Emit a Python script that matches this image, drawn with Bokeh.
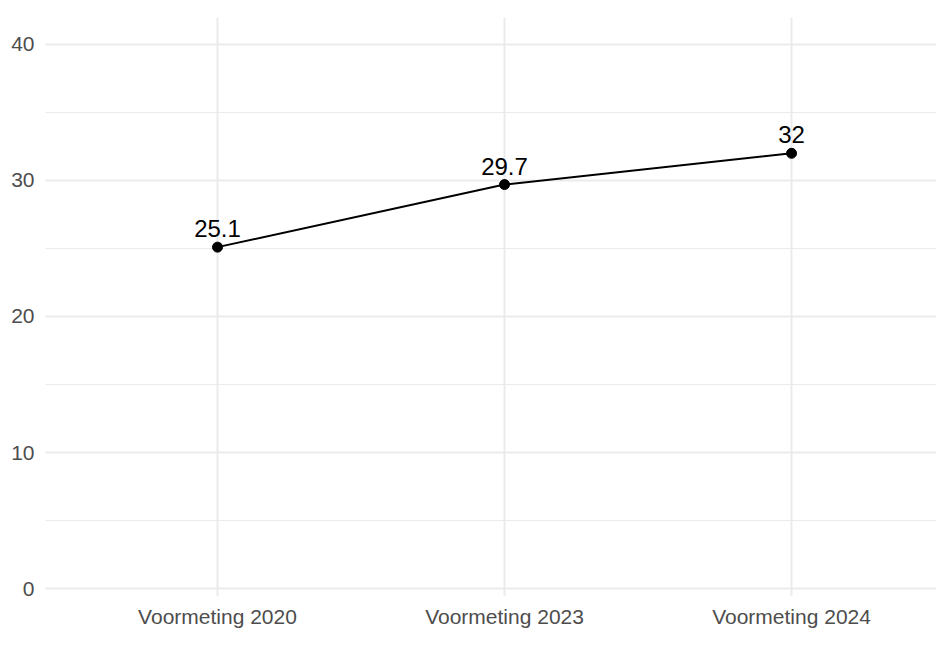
from bokeh.plotting import figure
from bokeh.models import ColumnDataSource, FixedTicker, Range1d
from bokeh.embed import file_html
from bokeh.resources import INLINE
from bokeh.core.properties import value

categories = ["Voormeting 2020", "Voormeting 2023", "Voormeting 2024"]
values = [25.1, 29.7, 32.0]
labels = ["25.1", "29.7", "32"]
y_ticks = [0, 10, 20, 30, 40]
y_minor = [5, 15, 25, 35]

xs = list(range(1, len(categories) + 1))
src = ColumnDataSource(dict(x=xs, y=values, lab=labels))

p = figure(width=936, height=630, output_backend="svg", toolbar_location=None,
           x_range=Range1d(0.4007, 3.505), y_range=Range1d(-0.588, 41.985),
           min_border_left=45, min_border_top=17, min_border_bottom=27, min_border_right=0)
p.outline_line_color = None
p.background_fill_color = "white"
p.border_fill_color = "white"

FONT = "Liberation Sans"

p.xaxis.ticker = FixedTicker(ticks=xs)
p.xaxis.major_label_overrides = {x: c for x, c in zip(xs, categories)}
p.yaxis.ticker = FixedTicker(ticks=y_ticks, minor_ticks=y_minor)

for ax in (p.xaxis[0], p.yaxis[0]):
    ax.axis_line_color = None
    ax.major_tick_line_color = None
    ax.minor_tick_line_color = None
    ax.major_label_text_font = FONT
    ax.major_label_text_font_size = "21px"
    ax.major_label_text_color = "#4D4D4D"
p.xaxis.major_label_standoff = 2
p.yaxis.major_label_standoff = 5

p.xgrid.grid_line_color = "#EBEBEB"
p.xgrid.grid_line_width = 2
p.ygrid.grid_line_color = "#EBEBEB"
p.ygrid.grid_line_width = 2
p.ygrid.minor_grid_line_color = "#EBEBEB"
p.ygrid.minor_grid_line_width = 1

p.line("x", "y", source=src, line_color="black", line_width=2)
p.scatter("x", "y", source=src, size=10, fill_color="black", line_color="black")
p.text("x", "y", text="lab", source=src, text_font=value(FONT), text_font_size="24px",
       text_color="black", text_align="center", text_baseline="bottom", y_offset=-10)

open("out.html", "w").write(file_html(p, INLINE))
